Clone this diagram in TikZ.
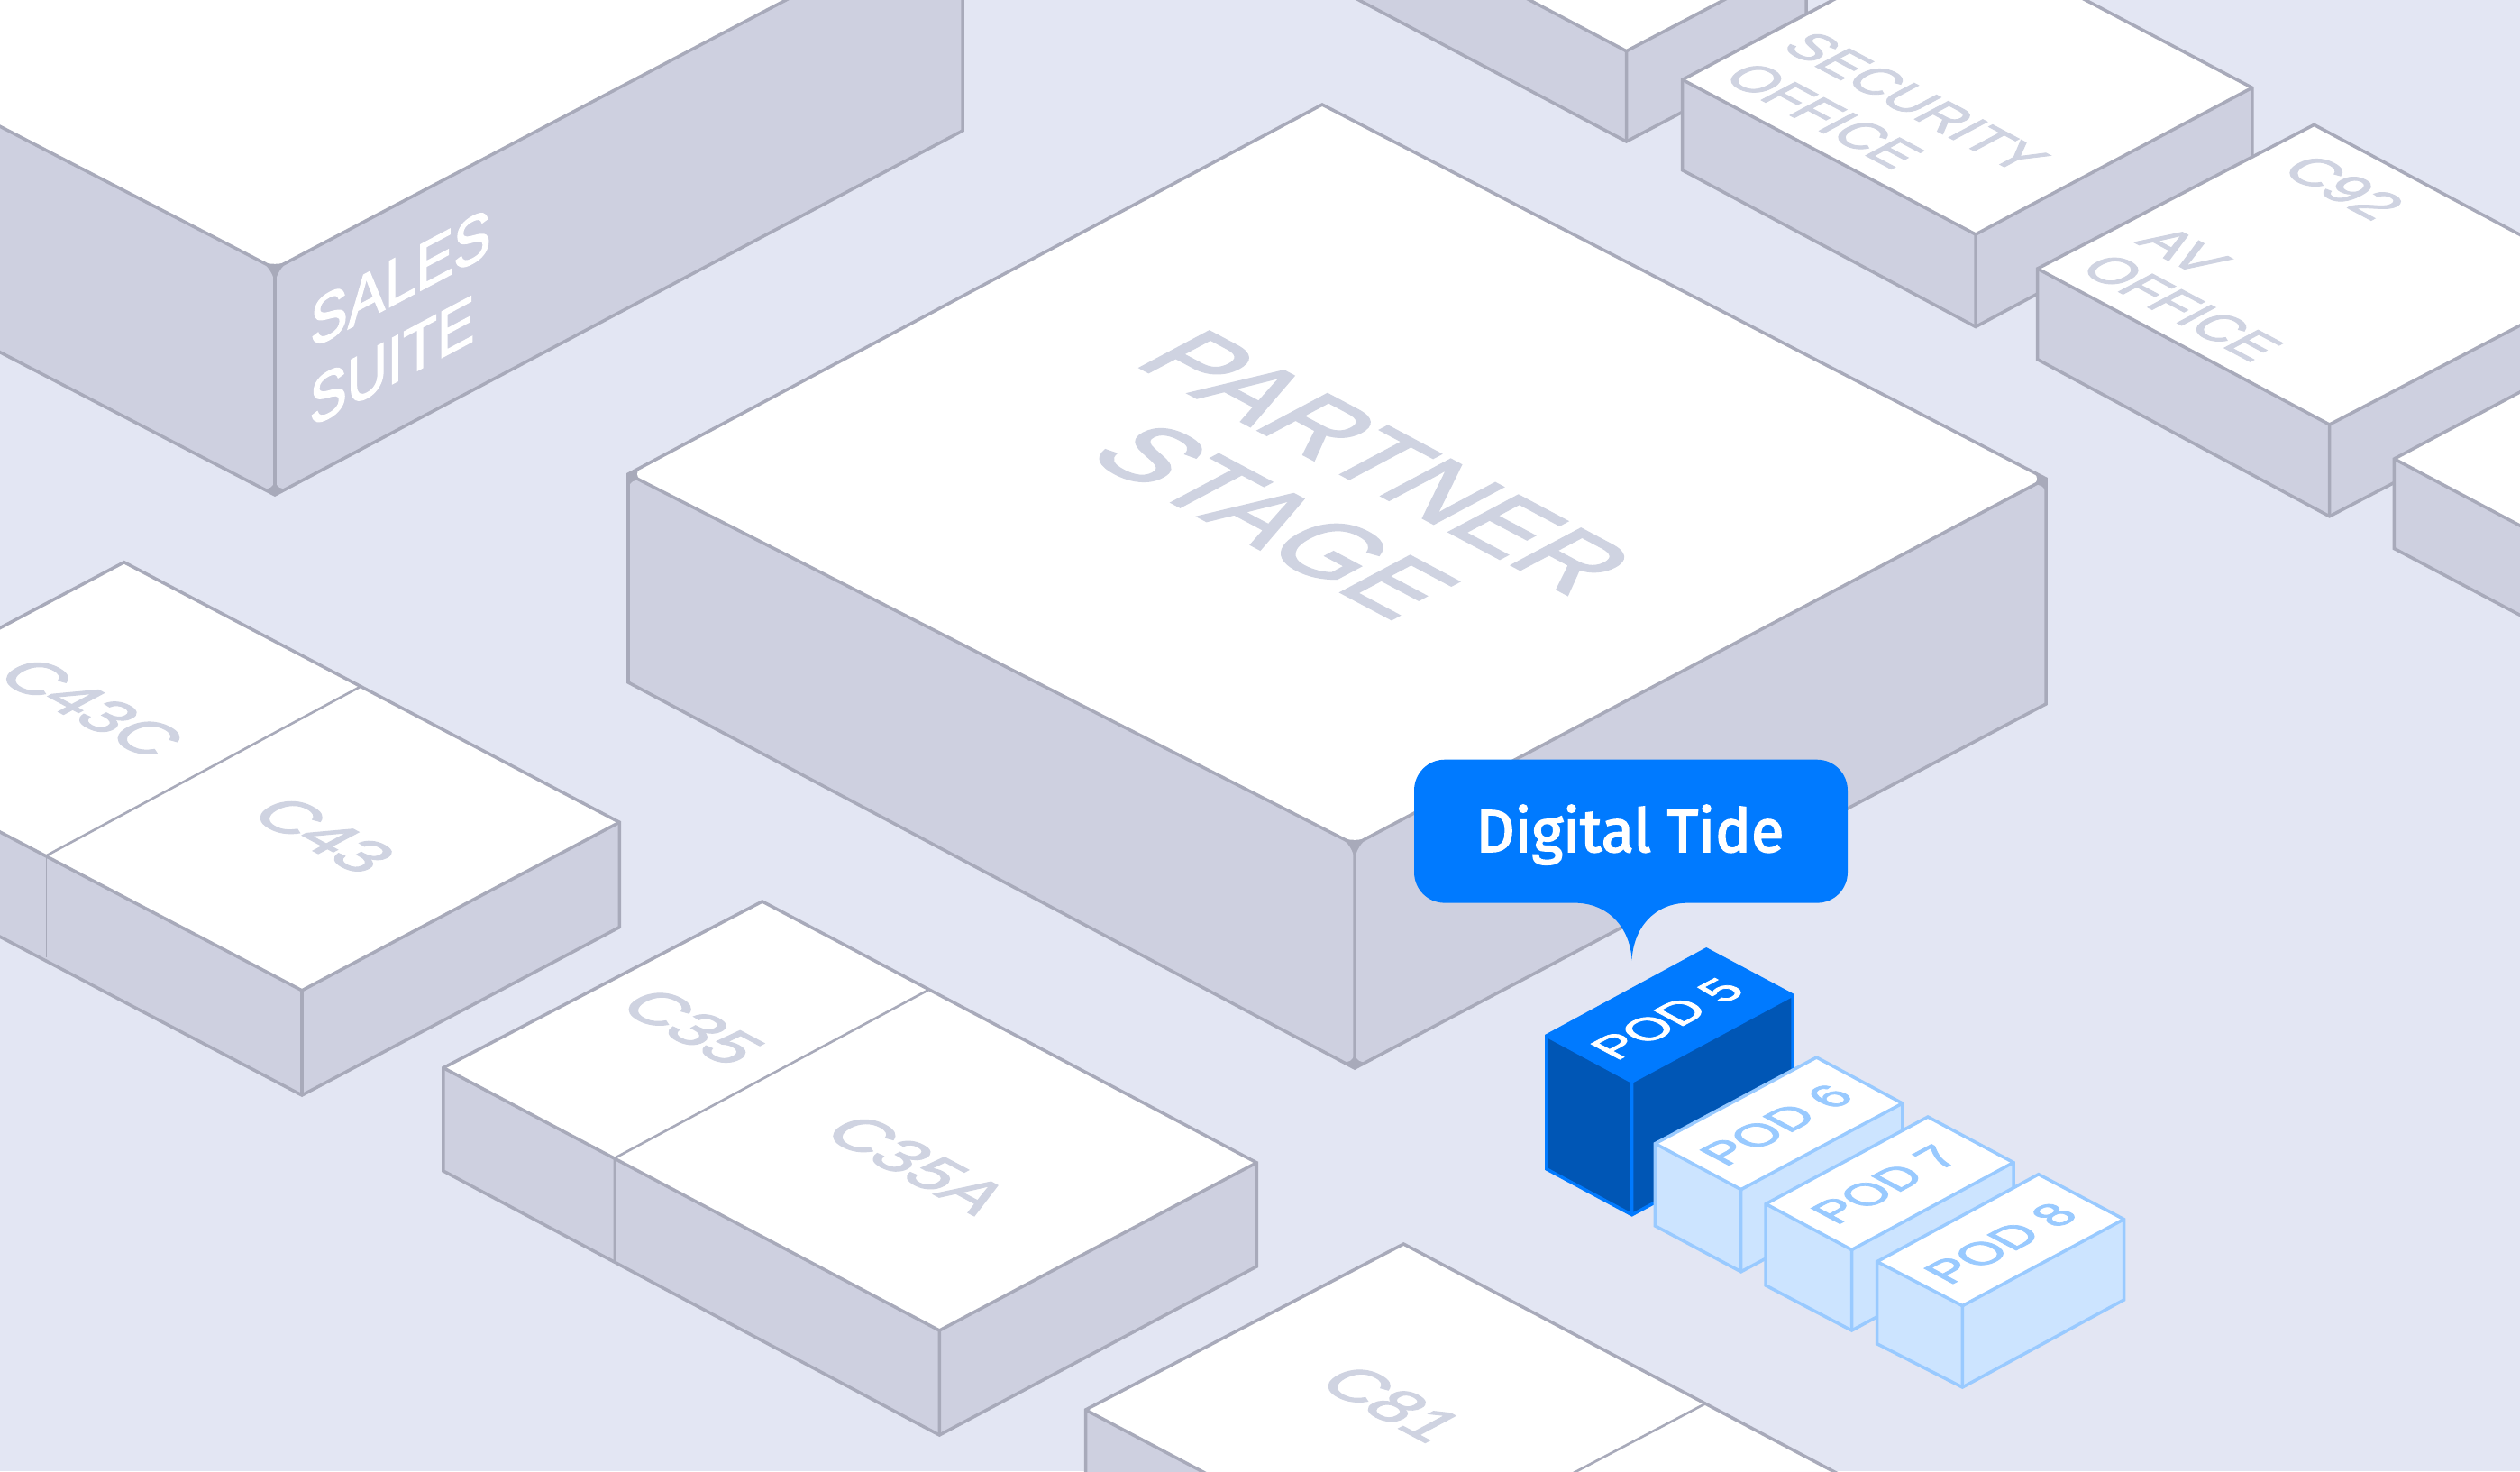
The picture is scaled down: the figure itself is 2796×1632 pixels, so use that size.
\documentclass[tikz,border=0pt]{standalone}
\usepackage{fontspec}
\setmainfont[FakeBold=2]{Liberation Sans}
\newfontfamily\bubblefont[FakeBold=2.5]{Fira Sans}
\definecolor{bgc}{RGB}{227,230,243}
\definecolor{wallc}{RGB}{206,208,224}
\definecolor{linec}{RGB}{168,170,186}
\definecolor{textc}{RGB}{207,211,225}
\definecolor{tidec}{RGB}{0,122,255}
\definecolor{darkc}{RGB}{0,86,181}
\definecolor{paleline}{RGB}{153,202,255}
\definecolor{palewall}{RGB}{204,228,255}
\tikzset{
  edge/.style={line width=1pt,line join=miter,miter limit=6},
  divide/.style={draw=linec,line width=0.75pt},
  thindivide/.style={draw=linec,line width=0.3pt},
  lab/.style={transform shape,anchor=base,inner sep=0pt,outer sep=0pt},
}
% \setblock{line}{wall}{top}{radius}
\newcommand\setblock[4]{\def\blL{#1}\def\blW{#2}\def\blT{#3}\def\blR{#4}}
% \isoblock{L}{LL}{F}{FF}{R}{RR}{B}
\newcommand\isoblock[7]{%
  \fill[\blL] (#7)--(#1)--(#2)--(#4)--(#6)--(#5)--cycle;
  \fill[\blW,rounded corners=\blR] (#1)--(#2)--(#4)--(#3)--cycle;
  \fill[\blW,rounded corners=\blR] (#3)--(#4)--(#6)--(#5)--cycle;
  \fill[\blT,rounded corners=\blR] (#7)--(#1)--(#3)--(#5)--cycle;
  \fill[\blW] (#2)--+(0,-25)--+(25,13)--cycle;
  \fill[\blW] (#6)--+(0,-25)--+(-25,13)--cycle;
  \fill[\blT] (#7)--+(-25,13)--+(25,13)--cycle;
  \draw[edge,\blL] (#7)--(#1)--(#2)--(#4)--(#6)--(#5)--cycle;
  \draw[edge,\blL] (#1)--(#3)--(#5) (#3)--(#4);
}
% text on a floor face, reading down to the right; baseline midpoint at x,y
\newcommand\floorlabel[7]{%
  \pgfmathsetmacro\qa{0.883*#4}\pgfmathsetmacro\qb{-0.469*#4}%
  \pgfmathsetmacro\qc{0.883*#5}\pgfmathsetmacro\qd{0.469*#5}%
  \begin{scope}[shift={(#2,#3)},cm={\qa,\qb,\qc,\qd,(0,0)}]
    \node[lab,text=#6] (#1) at (0,0) {#7};
  \end{scope}}
% text on a floor face, reading up to the right
\newcommand\podlabel[7]{%
  \pgfmathsetmacro\qa{0.883*#4}\pgfmathsetmacro\qb{0.469*#4}%
  \pgfmathsetmacro\qc{-0.883*#5}\pgfmathsetmacro\qd{0.469*#5}%
  \begin{scope}[shift={(#2,#3)},cm={\qa,\qb,\qc,\qd,(0,0)}]
    \node[lab,text=#6] (#1) at (0,0) {#7};
  \end{scope}}
% text on a right-hand wall
\newcommand\walllabel[7]{%
  \pgfmathsetmacro\qa{0.883*#4}\pgfmathsetmacro\qb{0.469*#4}%
  \pgfmathsetmacro\qd{#5}%
  \begin{scope}[shift={(#2,#3)},cm={\qa,\qb,0,\qd,(0,0)}]
    \node[lab,text=#6] (#1) at (0,0) {#7};
  \end{scope}}
\begin{document}
\begin{tikzpicture}[x=0.01cm,y=-0.01cm]
\useasboundingbox (0,0) rectangle (2796,1632);
\clip (0,0) rectangle (2796,1632);
\fill[bgc] (0,0) rectangle (2796,1632);

% grey blocks
\setblock{linec}{wallc}{white}{5.5pt}
\isoblock{-300,-15}{-300,235}{305,298}{305,549}{1068,-103}{1068,145}{-537,-421}
\walllabel{sales}{444.5}{334}{2.0}{2.1}{white}{SALES}
\walllabel{suite}{435}{426}{2.0}{2.1}{white}{SUITE}

\setblock{linec}{wallc}{white}{1.5pt}
\isoblock{1400,-157}{1400,-57}{1804.5,56.7}{1804.5,157}{2004,-48}{2004,52}{1600,-262}
\isoblock{1866.7,88.4}{1866.7,188.8}{2192,260}{2192,362.5}{2498.8,97.3}{2498.8,199}{2173.5,-74}
\floorlabel{security}{2107}{123}{1.68}{1.75}{textc}{SECURITY}
\floorlabel{office1}{2005}{138}{1.68}{1.75}{textc}{OFFICE}

\isoblock{2260.6,298}{2260.6,398.7}{2584.6,471}{2584.6,572.8}{2891.5,311.4}{2891.5,413}{2567.5,138.4}
\floorlabel{c92}{2581}{218}{1.85}{1.8}{textc}{C92}
\floorlabel{av}{2404}{288}{1.85}{1.75}{textc}{AV}
\floorlabel{office2}{2402}{351}{1.7}{1.75}{textc}{OFFICE}

\isoblock{2656.4,509}{2656.4,608.5}{3056,721}{3056,820}{3456,509}{3456,608}{3056,297}

\setblock{linec}{wallc}{white}{5.5pt}
\isoblock{697,526}{697,757}{1503,937}{1503,1185}{2270,531}{2270,781}{1467,116}
\floorlabel{partner}{1500}{533}{3.35}{3.6}{textc}{PARTNER}
\floorlabel{stage}{1376}{598}{3.35}{3.6}{textc}{STAGE}

\setblock{linec}{wallc}{white}{1.5pt}
\isoblock{-214.6,810.3}{-214.6,926.5}{335,1098.8}{335,1215}{687.3,912.2}{687.3,1028.6}{137.7,623.7}
\coordinate (d43a) at (399.4,762);
\coordinate (d43b) at (51.9,949);
\coordinate (d43c) at (51.9,1062.4);
\draw[divide] (d43a)--(d43b);
\draw[thindivide] (d43b)--(d43c);
\floorlabel{c43c}{79}{797}{2.17}{2.1}{textc}{C43C}
\floorlabel{c43}{337}{938.4}{2.2}{2.1}{textc}{C43}

\isoblock{491.9,1184.6}{491.9,1299}{1042.3,1476}{1042.3,1592}{1394.3,1289.8}{1394.3,1405}{845.8,1000}
\coordinate (d35a) at (1029.5,1098.5);
\coordinate (d35b) at (682,1284.8);
\coordinate (d35c) at (682,1399);
\draw[divide] (d35a)--(d35b)--(d35c);
\floorlabel{c35}{746}{1151}{2.2}{2.1}{textc}{C35}
\floorlabel{c35a}{995.5}{1303.5}{2.2}{2.1}{textc}{C35A}

\isoblock{1204.5,1564}{1204.5,1680}{1847.2,1904}{1847.2,2020}{2200,1720}{2200,1836}{1557.3,1380}
\coordinate (d81a) at (1892.4,1557);
\coordinate (d81b) at (1607,1707);
\draw[divide] (d81a)--(d81b);
\floorlabel{c81}{1522}{1569}{2.2}{2.1}{textc}{C81}

% pods
\setblock{tidec}{darkc}{tidec}{2pt}
\isoblock{1715.8,1149}{1715.8,1296.8}{1810.6,1200}{1810.6,1347.7}{1989,1104}{1989,1252}{1893.2,1053}
\podlabel{pod5}{1866}{1138.6}{1.56}{1.5}{white}{POD 5}
\setblock{paleline}{palewall}{white}{2pt}
\isoblock{1836.4,1268.7}{1836.4,1359.9}{1931.7,1319.6}{1931.7,1410.8}{2110.8,1224}{2110.8,1315}{2015.5,1173}
\podlabel{pod6}{1987}{1256.3}{1.56}{1.5}{paleline}{POD 6}
\isoblock{1959.2,1335.6}{1959.2,1426}{2054.5,1386.5}{2054.5,1476}{2234,1289.6}{2234,1379}{2139,1239}
\podlabel{pod7}{2107.5}{1322.4}{1.5}{1.5}{paleline}{POD 7}
\isoblock{2082.7,1399.6}{2082.7,1490.8}{2177.4,1448.6}{2177.4,1539}{2356.5,1352.6}{2356.5,1442}{2261.8,1302.7}
\podlabel{pod8}{2235.7}{1387.6}{1.56}{1.5}{paleline}{POD 8}

% callout
\fill[tidec] (1603,842.7) -- (2016,842.7)
  .. controls (2035,842.7) and (2050,858) .. (2050,877)
  -- (2050,967.5)
  .. controls (2050,986.5) and (2035,1001.6) .. (2016,1001.6)
  -- (1873,1001.6)
  .. controls (1835,1001.6) and (1812,1030) .. (1810.6,1065.6)
  .. controls (1809,1030) and (1785,1001.6) .. (1746.8,1001.6)
  -- (1603,1001.6)
  .. controls (1584,1001.6) and (1569,986.5) .. (1569,967.5)
  -- (1569,877)
  .. controls (1569,858) and (1584,842.7) .. (1603,842.7) -- cycle;
\node[anchor=base,inner sep=0pt,text=white,font=\bubblefont\fontsize{19}{22}\selectfont] (tide) at (1808.5,945) {Digital Tide};
\end{tikzpicture}
\end{document}
